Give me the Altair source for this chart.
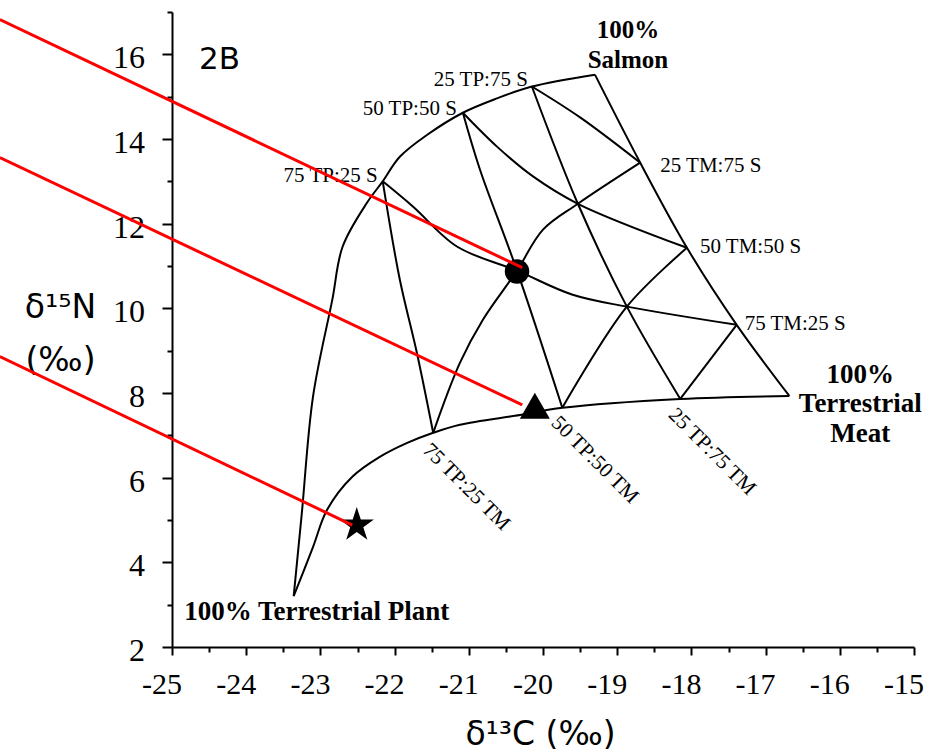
import altair as alt
import pandas as pd

# ---------------- axes ----------------
X_DOMAIN = [-25, -15]
Y_DOMAIN = [2, 17]
X_MAJOR = list(range(-25, -14))
X_MINOR = [v + 0.5 for v in range(-25, -15)]
Y_MAJOR = [2, 4, 6, 8, 10, 12, 14, 16]
Y_MINOR = [3, 5, 7, 9, 11, 13, 15, 17]
X_TICK_LABELS = [str(v) for v in X_MAJOR]
Y_TICK_LABELS = [str(v) for v in Y_MAJOR]

# ---------------- mixing-model vertices (d13C, d15N) ----------------
P = (-23.36, 3.20)      # 100% terrestrial plant
S = (-19.30, 15.52)     # 100% salmon
M = (-16.68, 7.93)      # 100% terrestrial meat
PS75 = (-22.16, 13.00)
PS50 = (-21.08, 14.62)
PS25 = (-20.15, 15.24)
MS25 = (-18.69, 13.44)
MS50 = (-18.06, 11.43)
MS75 = (-17.39, 9.61)
PM75 = (-21.48, 7.06)
PM50 = (-19.74, 7.65)
PM25 = (-18.15, 7.86)
A = (-20.35, 10.89)
B = (-19.53, 12.47)
C = (-18.87, 10.04)

# ---------------- grid curves ----------------
EDGE_PS = [P, (-23.25, 5.17), (-23.10, 7.91), (-22.84, 10.20), (-22.70, 11.46),
           (-22.37, 12.50), PS75, (-21.93, 13.58), (-21.56, 14.10), PS50,
           (-20.62, 14.96), PS25, S]
EDGE_SM = [S, MS25, MS50, MS75, M]
EDGE_PM = [P, (-23.10, 4.36), (-22.91, 5.24), (-22.57, 6.02), (-22.20, 6.49),
           (-21.83, 6.82), PM75, (-21.12, 7.25), (-20.31, 7.48), PM50, PM25, M]
ISO_P75 = [PS75, (-21.93, 10.68), (-21.70, 8.95), PM75]
ISO_P50 = [PS50, (-20.85, 13.28), A, PM50]
ISO_P25 = [PS25, B, C, PM25]
ISO_S75 = [PS25, (-19.50, 14.51), MS25]
ISO_S50 = [PS50, (-20.62, 13.82), (-20.13, 13.11), B, MS50]
ISO_S25 = [PS75, (-21.75, 12.40), (-21.16, 11.46), A, (-19.60, 10.32), C, MS75]
ISO_M25 = [PM75, (-21.12, 8.71), (-20.81, 9.73), A, (-20.00, 11.86), B, MS25]
ISO_M50 = [PM50, C, MS50]
ISO_M75 = [PM25, MS75]

# ---------------- observed samples and red connectors ----------------
CIRCLE = (-20.35, 10.87)
TRIANGLE = (-20.11, 7.70)
STAR = (-22.51, 4.88)
RED_1 = [(-27.32, 16.82), (-20.28, 10.96)]
RED_2 = [(-27.32, 13.56), (-20.28, 7.72)]
RED_3 = [(-27.32, 8.86), (-22.57, 4.88)]

STAR_PATH = ("M0,-1L0.2245,-0.309L0.9511,-0.309L0.3633,0.118L0.5878,0.809L0,0.382"
             "L-0.5878,0.809L-0.3633,0.118L-0.9511,-0.309L-0.2245,-0.309Z")


# ---------------- build tables ----------------
def lines_df(named):
    rows = []
    for name, pts in named:
        for i, (x, y) in enumerate(pts):
            rows.append({"line": name, "seq": i, "x": x, "y": y})
    return pd.DataFrame(rows)


grid_df = lines_df([
    ("EDGE_PS", EDGE_PS), ("EDGE_SM", EDGE_SM), ("EDGE_PM", EDGE_PM),
    ("ISO_P75", ISO_P75), ("ISO_P50", ISO_P50), ("ISO_P25", ISO_P25),
    ("ISO_S75", ISO_S75), ("ISO_S50", ISO_S50), ("ISO_S25", ISO_S25),
    ("ISO_M25", ISO_M25), ("ISO_M50", ISO_M50), ("ISO_M75", ISO_M75),
])
red_df = lines_df([("RED_1", RED_1), ("RED_2", RED_2), ("RED_3", RED_3)])
x_label_df = pd.DataFrame({"x": X_MAJOR, "y": [Y_DOMAIN[0]] * len(X_MAJOR), "t": X_TICK_LABELS})
y_label_df = pd.DataFrame({"x": [X_DOMAIN[0]] * len(Y_MAJOR), "y": Y_MAJOR, "t": Y_TICK_LABELS})

xs = alt.Scale(domain=X_DOMAIN, nice=False, zero=False)
ys = alt.Scale(domain=Y_DOMAIN, nice=False, zero=False)

SERIF = "Liberation Serif"
SANS = "DejaVu Sans"

x_axis = alt.Axis(
    orient="bottom", values=X_MAJOR, labels=False,
    tickSize=8, tickWidth=2, tickColor="black", domainColor="black", domainWidth=2,
    grid=False,
    title="δ¹³C (‰)", titleFont=SANS, titleFontSize=33, titleFontWeight="normal",
    titleColor="black", titleBaseline="alphabetic", titleX=368, titleY=97,
)
y_axis = alt.Axis(
    orient="left", values=Y_MAJOR, labels=False, tickSize=10, tickWidth=2, tickColor="black",
    domainColor="black", domainWidth=2, grid=False,
    title=["δ¹⁵N", "(‰)"], titleAngle=0, titleAlign="center", titleBaseline="alphabetic",
    titleFont=SANS, titleFontSize=33, titleFontWeight="normal", titleColor="black",
    titleX=-112, titleY=305, titleLineHeight=53,
)
x_minor_axis = alt.Axis(
    orient="bottom", values=X_MINOR, labels=False, domain=False, grid=False,
    tickSize=5, tickWidth=2, tickColor="black", title=None,
)
y_minor_axis = alt.Axis(
    orient="left", values=Y_MINOR, labels=False, domain=False, grid=False,
    tickSize=5, tickWidth=2, tickColor="black", title=None,
)


def xy():
    return dict(x=alt.X("x:Q", scale=xs, axis=None), y=alt.Y("y:Q", scale=ys, axis=None))


grid = alt.Chart(grid_df).mark_line(
    color="black", strokeWidth=2, interpolate="catmull-rom"
).encode(detail="line:N", order="seq:Q", **xy())

axes_major = alt.Chart(pd.DataFrame({"x": [-20.0], "y": [10.0]})).mark_point(opacity=0).encode(
    x=alt.X("x:Q", scale=xs, axis=x_axis),
    y=alt.Y("y:Q", scale=ys, axis=y_axis),
)
axes_minor = alt.Chart(pd.DataFrame({"x": [-20.0], "y": [10.0]})).mark_point(opacity=0).encode(
    x=alt.X("x:Q", scale=xs, axis=x_minor_axis),
    y=alt.Y("y:Q", scale=ys, axis=y_minor_axis),
)

# tick labels (serif, as in the original)
x_tick_text = alt.Chart(x_label_df).mark_text(
    align="center", baseline="alphabetic", dx=-10, dy=47,
    font=SERIF, fontSize=30, color="black"
).encode(text="t:N", **xy())
y_tick_text = alt.Chart(y_label_df).mark_text(
    align="right", baseline="alphabetic", dx=-27, dy=14,
    font=SERIF, fontSize=32, color="black"
).encode(text="t:N", **xy())


def marker(pt, shape, size):
    df = pd.DataFrame({"x": [pt[0]], "y": [pt[1]]})
    return alt.Chart(df).mark_point(
        shape=shape, size=size, filled=True, color="black", opacity=1, strokeWidth=0
    ).encode(**xy())


red = alt.Chart(red_df).mark_line(color="#ff0000", strokeWidth=3).encode(
    detail="line:N", order="seq:Q", **xy()
)


def label(pt, text, dx, dy, align="left", baseline="alphabetic", angle=0,
          size=21, bold=False, line_height=None):
    df = pd.DataFrame({"x": [pt[0]], "y": [pt[1]], "t": [text]})
    kw = dict(align=align, baseline=baseline, dx=dx, dy=dy, fontSize=size,
              font=SERIF, fontWeight="bold" if bold else "normal", color="black")
    if angle:
        kw["angle"] = angle
    if line_height:
        kw["lineHeight"] = line_height
        kw["lineBreak"] = "\n"
    return alt.Chart(df).mark_text(**kw).encode(text="t:N", **xy())


labels = [
    label(S, "100%\nSalmon", 33, -37, align="center", size=25, bold=True, line_height=30),
    label(M, "100%\nTerrestrial\nMeat", 71, -13, align="center", size=27, bold=True, line_height=29.5),
    label(P, "100% Terrestrial Plant", 23, 24, align="center", size=27, bold=True),
    label(PS25, "25 TP:75 S", -4, -1, align="right"),
    label(PS50, "50 TP:50 S", -6, 2, align="right"),
    label(PS75, "75 TP:25 S", -5, 1, align="right"),
    label(MS25, "25 TM:75 S", 20, 9),
    label(MS50, "50 TM:50 S", 13, 5),
    label(MS75, "75 TM:25 S", 8, 5),
    label(PM75, "75 TP:25 TM", 5, 15, baseline="middle", angle=45),
    label(PM50, "50 TP:50 TM", 3, 14, baseline="middle", angle=45),
    label(PM25, "25 TP:75 TM", 3, 15, baseline="middle", angle=45),
]

panel = alt.Chart(pd.DataFrame({"t": ["2B"]})).mark_text(
    align="left", baseline="alphabetic", font=SANS, fontSize=31, color="black"
).encode(x=alt.value(27), y=alt.value(57), text="t:N")

chart = alt.layer(
    axes_major,
    axes_minor,
    x_tick_text,
    y_tick_text,
    grid,
    marker(CIRCLE, "circle", 600),
    marker(TRIANGLE, "triangle-up", 900),
    marker(STAR, STAR_PATH, 1300),
    *labels,
    red,
    panel,
).resolve_axis(
    x="independent", y="independent"
).properties(
    width=742,
    height=635,
    autosize=alt.AutoSizeParams(type="none"),
    padding={"left": 172, "top": 12, "right": 30, "bottom": 107},
    background="white",
).configure_view(strokeWidth=0)

chart.save("out.html", embed_options={"renderer": "svg", "actions": False})
